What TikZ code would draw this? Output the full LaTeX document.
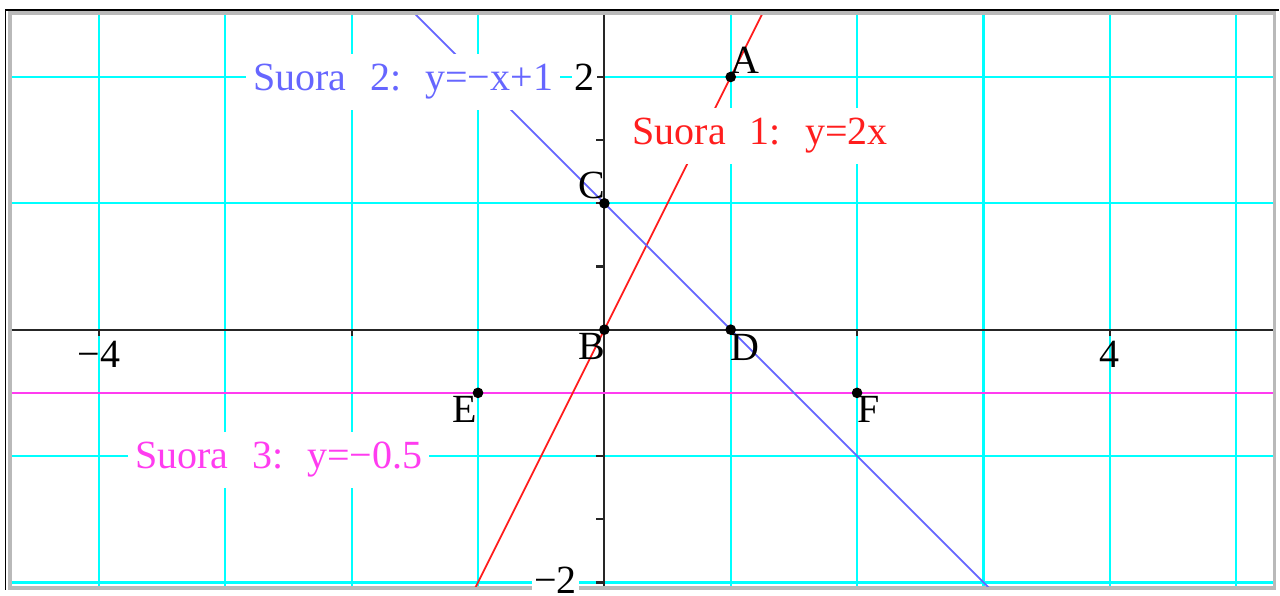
\documentclass[tikz,border=0pt]{standalone}
\usepackage{fontspec}
\setmainfont{Liberation Serif}
\definecolor{gridcyan}{RGB}{0,255,255}
\definecolor{lineblue}{RGB}{102,102,255}
\definecolor{linered}{RGB}{255,30,30}
\definecolor{linemag}{RGB}{255,60,240}
\newcommand{\gp}{\hspace{0.6em}}

\begin{document}
\begin{tikzpicture}[
    font=\fontsize{9}{10}\selectfont,
    gridline/.style={draw=gridcyan, line width=0.5pt},
    axisline/.style={draw=black!85, line width=0.5pt},
    graphline/.style={line width=0.4pt},
    pt/.style={circle, fill=black, inner sep=0pt, minimum size=2.4pt},
    eqlabel/.style={fill=white, inner xsep=1.5pt, inner ysep=0pt, minimum height=0.44cm},
    ptlabel/.style={inner sep=0pt} ]
    % --- Frame ---
    \draw[black, line width=0.4pt] (-4.74,-2.06) -- (-4.74,2.53) -- (5.34,2.53);
    \draw[gray!55, line width=0.8pt] (-4.705,-2.045) rectangle (5.305,2.505);

    \begin{scope}
    \clip (-4.69,-2.03) rectangle (5.29,2.49);
    % --- Grid and axes ---
    \draw[gridline] (-4.69,-2.03) grid (5.29,2.49);
    \coordinate (xl) at (-4.69,0);
    \coordinate (xr) at (5.29,0);
    \coordinate (yb) at (0,-2.03);
    \coordinate (yt) at (0,2.49);
    \draw[axisline] (xl) -- (xr);
    \draw[axisline] (yb) -- (yt);
    \foreach \y in {-2,-1.5,...,2}
        \draw[axisline] (-0.065,\y) -- (0,\y);
    \foreach \x in {-4,-2,2,4}
        \draw[axisline] (\x,0) -- (\x,-0.05);

    % --- Lines ---
    \coordinate (m1) at (-4.69,-0.5);
    \coordinate (m2) at (5.29,-0.5);
    \coordinate (r1) at (-1.1,-2.2);
    \coordinate (r2) at (1.3,2.6);
    \coordinate (b1) at (-1.6,2.6);
    \coordinate (b2) at (3.1,-2.1);
    \draw[graphline, linemag, line width=0.5pt] (m1) -- (m2);
    \draw[graphline, linered] (r1) -- (r2);
    \draw[graphline, lineblue] (b1) -- (b2);
    \end{scope}

    % --- Points ---
    \node[pt] (A) at (1,2) {};
    \node[pt] (B) at (0,0) {};
    \node[pt] (C) at (0,1) {};
    \node[pt] (D) at (1,0) {};
    \node[pt] (E) at (-1,-0.5) {};
    \node[pt] (F) at (2,-0.5) {};

    \node[ptlabel] (lA) at (1.115,2.134) {A};
    \node[ptlabel] (lB) at (-0.103,-0.134) {B};
    \node[ptlabel] (lC) at (-0.103,1.138) {C};
    \node[ptlabel] (lD) at (1.115,-0.142) {D};
    \node[ptlabel] (lE) at (-1.107,-0.632) {E};
    \node[ptlabel] (lF) at (2.095,-0.632) {F};

    % --- Equations ---
    \node[eqlabel, text=lineblue] (eq2) at (-1.593,1.96) {Suora\gp 2:\gp y=−x+1};
    \node[eqlabel, text=linered] (eq1) at (1.233,1.535) {Suora\gp 1:\gp y=2x};
    \node[eqlabel, text=linemag] (eq3) at (-2.577,-1.03) {Suora\gp 3:\gp y=−0.5};

    % --- Axis numbers ---
    \node[fill=white, inner sep=0.5pt] (ny2) at (-0.158,2) {2};
    \node[fill=white, inner sep=0.5pt] (nym2) at (-0.387,-1.98) {−2};
    \node (nxm4) at (-4,-0.198) {−4};
    \node (nx4) at (4,-0.198) {4};

    \useasboundingbox (-4.783,-2.055) rectangle (5.336,2.609);
\end{tikzpicture}
\end{document}
